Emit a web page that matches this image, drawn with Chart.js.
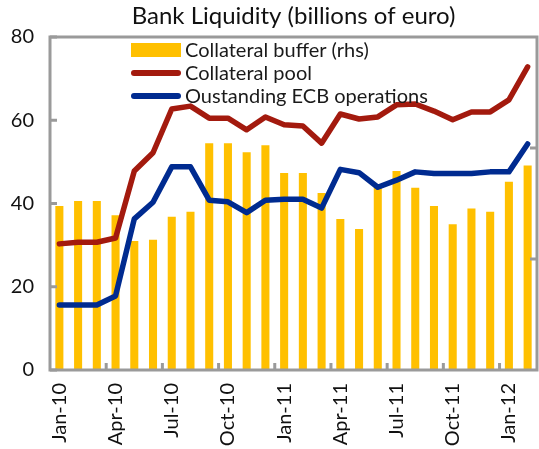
<!DOCTYPE html>
<html>
<head>
<meta charset="utf-8">
<style>
  html, body { margin: 0; padding: 0; background: #fff; }
  #wrap { width: 539px; height: 449px; }
</style>
<script src="https://cdn.jsdelivr.net/npm/chart.js@4.4.1/dist/chart.umd.min.js"></script>
</head>
<body>
<div id="wrap"><canvas id="c" width="539" height="449"></canvas></div>
<script>
const months = ['Jan-10','Feb-10','Mar-10','Apr-10','May-10','Jun-10','Jul-10','Aug-10','Sep-10','Oct-10','Nov-10','Dec-10',
                'Jan-11','Feb-11','Mar-11','Apr-11','May-11','Jun-11','Jul-11','Aug-11','Sep-11','Oct-11','Nov-11','Dec-11',
                'Jan-12','Feb-12'];
const collateralBuffer = [39.4, 40.6, 40.6, 37.2, 31.0, 31.3, 36.8, 38.0, 54.5, 54.5, 52.3, 54.0,
                          47.3, 47.3, 42.5, 36.3, 33.9, 44.0, 47.8, 43.8, 39.4, 35.0, 38.8, 38.0, 45.2, 49.1];
const collateralPool = [30.3, 30.7, 30.7, 31.7, 47.8, 52.2, 62.7, 63.4, 60.5, 60.5, 57.7, 60.8,
                        58.9, 58.6, 54.5, 61.5, 60.3, 60.8, 63.7, 63.9, 62.2, 60.1, 62.0, 62.0, 64.9, 72.8];
const ecbOperations = [15.6, 15.6, 15.6, 17.8, 36.3, 40.3, 48.8, 48.8, 40.8, 40.4, 37.8, 40.8,
                       41.0, 41.0, 38.9, 48.2, 47.4, 43.9, 45.6, 47.6, 47.2, 47.2, 47.2, 47.6, 47.6, 54.3];
const yTicks = [0, 20, 40, 60, 80];
const seriesNames = ['Collateral buffer (rhs)', 'Collateral pool', 'Oustanding ECB operations'];
const titleText = 'Bank Liquidity (billions of euro)';

const FONT = 'Lato, "Open Sans", sans-serif';
const GRAY = '#9a9a9a';
const YELLOW = '#FFC000';
const RED = '#A31A0E';
const BLUE = '#002B90';

const framePlugin = {
  id: 'frame',
  afterDatasetsDraw(chart) {
    const ctx = chart.ctx;
    const a = chart.chartArea;
    const x = chart.scales.x, y = chart.scales.y;
    ctx.save();
    ctx.strokeStyle = GRAY;
    ctx.lineWidth = 3;
    ctx.lineCap = 'butt';
    ctx.strokeRect(a.left, a.top, a.right - a.left, a.bottom - a.top);
    ctx.beginPath();
    yTicks.forEach(v => {
      const py = y.getPixelForValue(v);
      ctx.moveTo(a.left, py); ctx.lineTo(a.left + 7, py);
    });
    for (let k = 3; k < months.length; k += 3) {
      const px = (x.getPixelForValue(k - 1) + x.getPixelForValue(k)) / 2;
      ctx.moveTo(px, a.bottom); ctx.lineTo(px, a.bottom - 7);
    }
    for (let k = 1; k < 3; k++) {
      const py = a.bottom - (a.bottom - a.top) * k / 3;
      ctx.moveTo(a.right, py); ctx.lineTo(a.right - 7, py);
    }
    ctx.stroke();

    // legend
    const lx0 = 131, lx1 = 181, tx = 185;
    const rows = [50, 73, 96];
    ctx.fillStyle = YELLOW;
    ctx.fillRect(lx0, rows[0] - 7, lx1 - lx0, 14);
    ctx.lineWidth = 6;
    ctx.lineCap = 'round';
    ctx.strokeStyle = RED;
    ctx.beginPath(); ctx.moveTo(lx0 + 3, rows[1]); ctx.lineTo(lx1 - 3, rows[1]); ctx.stroke();
    ctx.strokeStyle = BLUE;
    ctx.beginPath(); ctx.moveTo(lx0 + 3, rows[2]); ctx.lineTo(lx1 - 3, rows[2]); ctx.stroke();
    ctx.fillStyle = '#1a1a1a';
    ctx.font = '20px ' + FONT;
    ctx.textBaseline = 'middle';
    ctx.textAlign = 'left';
    seriesNames.forEach((n, i) => ctx.fillText(n, tx, rows[i] + 1));
    ctx.restore();
  }
};

new Chart(document.getElementById('c'), {
  type: 'bar',
  data: {
    labels: months,
    datasets: [
      { type: 'bar', label: seriesNames[0], data: collateralBuffer, backgroundColor: YELLOW,
        barPercentage: 0.43, categoryPercentage: 1.0, order: 3 },
      { type: 'line', label: seriesNames[1], data: collateralPool, borderColor: RED, backgroundColor: RED,
        borderWidth: 5.5, pointRadius: 0, tension: 0, borderCapStyle: 'round', borderJoinStyle: 'round', order: 2 },
      { type: 'line', label: seriesNames[2], data: ecbOperations, borderColor: BLUE, backgroundColor: BLUE,
        borderWidth: 5.5, pointRadius: 0, tension: 0, borderCapStyle: 'round', borderJoinStyle: 'round', order: 1 }
    ]
  },
  options: {
    responsive: false,
    animation: false,
    devicePixelRatio: 1,
    layout: { padding: { left: 0, right: 2, top: 0, bottom: 0 } },
    plugins: {
      legend: { display: false },
      tooltip: { enabled: false },
      title: {
        display: true, text: titleText, fullSize: false,
        color: '#111', font: { family: FONT, size: 24, weight: 'normal', lineHeight: 1.2 },
        padding: { top: 2, bottom: 6.2 }
      }
    },
    scales: {
      x: {
        offset: true,
        grid: { display: false, drawTicks: false },
        border: { display: false },
        ticks: {
          autoSkip: false, minRotation: 90, maxRotation: 90, padding: 13,
          color: '#111', font: { family: FONT, size: 20 },
          callback: (v, i) => (i % 3 === 0 ? months[i] : '')
        },
        afterFit: s => { s.height = 79; s.paddingLeft = 0; s.paddingRight = 0; }
      },
      y: {
        min: 0, max: 80,
        grid: { display: false, drawTicks: false },
        border: { display: false },
        afterBuildTicks: s => { s.ticks = yTicks.map(v => ({ value: v })); },
        ticks: { padding: 16, color: '#111', font: { family: FONT, size: 20 } },
        afterFit: s => { s.width = 50; s.paddingTop = 0; s.paddingBottom = 0; }
      }
    }
  },
  plugins: [framePlugin]
});
</script>
</body>
</html>
